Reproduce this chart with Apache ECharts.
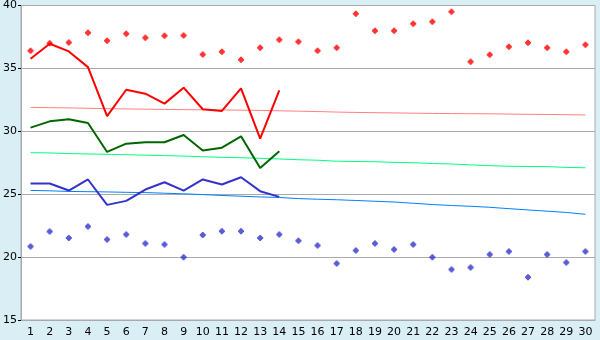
<!DOCTYPE html>
<html><head><meta charset="utf-8">
<script src="https://cdn.jsdelivr.net/npm/echarts@6/dist/echarts.min.js"></script>
<style>html,body{margin:0;padding:0;background:#d9eef5;}#c{width:600px;height:340px;}</style>
</head><body><div id="c"></div>
<script>
var days = [];
for (var i = 1; i <= 30; i++) days.push(String(i));
var yTicks = [15, 20, 25, 30, 35, 40];

var maxPoints = [36.4,37.0,37.05,37.83,37.2,37.75,37.43,37.59,37.62,36.11,36.32,35.69,36.64,37.28,37.12,36.4,36.64,39.34,37.99,37.99,38.55,38.7,39.5,35.53,36.09,36.72,37.04,36.64,36.32,36.88];
var minPoints = [20.85,22.04,21.51,22.44,21.4,21.8,21.09,21.01,19.98,21.75,22.06,22.06,21.51,21.8,21.3,20.93,19.5,20.53,21.09,20.61,21.01,19.98,19.02,19.18,20.21,20.45,18.39,20.21,19.58,20.45];
var redLine = [35.77,36.96,36.35,35.1,31.2,33.3,32.99,32.2,33.47,31.75,31.62,33.41,29.42,33.25];
var greenLine = [30.29,30.79,30.95,30.66,28.36,29.02,29.13,29.13,29.71,28.47,28.7,29.6,27.09,28.41];
var blueLine = [25.85,25.85,25.29,26.17,24.15,24.47,25.37,25.95,25.29,26.17,25.77,26.35,25.24,24.79];
var normalMax = [31.9,31.88,31.86,31.83,31.8,31.78,31.76,31.74,31.72,31.71,31.7,31.68,31.66,31.63,31.6,31.57,31.53,31.5,31.48,31.46,31.44,31.42,31.41,31.4,31.39,31.37,31.35,31.34,31.32,31.3];
var normalMean = [28.3,28.28,28.23,28.2,28.17,28.14,28.1,28.07,28.03,27.98,27.93,27.9,27.85,27.8,27.74,27.7,27.62,27.6,27.58,27.53,27.5,27.44,27.4,27.33,27.27,27.22,27.2,27.19,27.13,27.1];
var normalMin = [25.3,25.27,25.22,25.2,25.18,25.15,25.13,25.08,25.03,24.97,24.9,24.84,24.78,24.74,24.65,24.6,24.56,24.5,24.44,24.38,24.28,24.18,24.1,24.04,23.96,23.85,23.75,23.65,23.55,23.4];

var marker = 'path://M2,0H4V1H5V2H6V4H5V5H4V6H2V5H1V4H0V2H1V1H2Z';
function thin(data, color) {
  return {type:'line', data:data, symbol:'none', silent:true, lineStyle:{color:color, width:1}, z:2};
}
function thick(data, color) {
  return {type:'line', data:data, symbol:'none', silent:true, lineStyle:{color:color, width:2}, z:3};
}
function pts(data, color) {
  return {type:'scatter', data:data, symbol:marker, symbolSize:6, itemStyle:{color:color}, silent:true, z:4};
}

var chart = echarts.init(document.getElementById('c'), null, {renderer:'canvas'});
chart.setOption({
  backgroundColor:'#d9eef5',
  animation:false,
  grid:{left:20, right:5, top:5, bottom:20, show:true, backgroundColor:'#ffffff', borderColor:'#aaaaaa', borderWidth:1},
  xAxis:{type:'category', data:days, boundaryGap:true,
    axisLine:{lineStyle:{color:'#aaaaaa'}},
    axisTick:{alignWithLabel:true, length:6, lineStyle:{color:'#000000'}},
    axisLabel:{color:'#000', fontSize:11, fontFamily:'DejaVu Sans', margin:7, interval:0},
    splitLine:{show:false}},
  yAxis:{type:'value', min:yTicks[0], max:yTicks[yTicks.length-1], interval:5,
    axisLine:{show:true, lineStyle:{color:'#aaaaaa'}},
    axisTick:{show:true, length:3, lineStyle:{color:'#000000'}},
    axisLabel:{color:'#000', fontSize:11, fontFamily:'DejaVu Sans', margin:4},
    splitLine:{show:true, lineStyle:{color:'#aaaaaa', width:1}}},
  series:[
    thin(normalMax, '#ff8080'),
    thin(normalMean, '#00ff80'),
    thin(normalMin, '#0080ff'),
    thick(redLine, '#ff0000'),
    thick(greenLine, '#006600'),
    thick(blueLine, '#3333cc'),
    pts(maxPoints, '#ff0000'),
    pts(minPoints, '#3333cc')
  ]
});
</script></body></html>
